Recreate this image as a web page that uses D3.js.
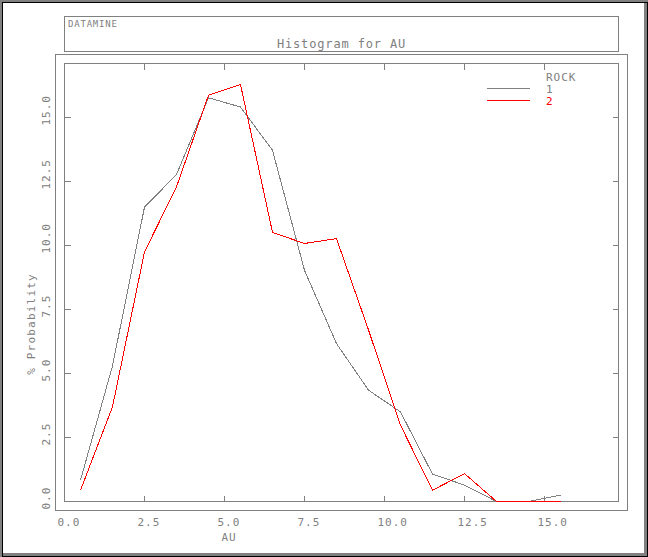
<!DOCTYPE html>
<html>
<head>
<meta charset="utf-8">
<script src="https://cdn.jsdelivr.net/npm/d3@7/dist/d3.min.js"></script>
<style>
  html, body { margin: 0; padding: 0; background: #fff; }
  svg { display: block; }
  text { font-family: "DejaVu Sans Mono", "Liberation Mono", monospace; fill: #808080; }
</style>
</head>
<body>
<svg id="chart" width="648" height="557"></svg>
<script>
// ---- data ----
const binCentres = [0.5, 1.5, 2.5, 3.5, 4.5, 5.5, 6.5, 7.5, 8.5, 9.5, 10.5, 11.5, 12.5, 13.5, 14.5, 15.5];
const rock1 = [0.83, 5.3, 11.5, 12.77, 15.77, 15.41, 13.72, 9.03, 6.17, 4.35, 3.5, 1.07, 0.64, 0, 0, 0.25];
const rock2 = [0.44, 3.7, 9.75, 12.29, 15.87, 16.29, 10.51, 10.08, 10.27, 6.7, 2.98, 0.44, 1.09, 0, 0, 0];
const seriesNames = ["1", "2"];
const xTicks = [0, 2.5, 5, 7.5, 10, 12.5, 15];
const yTicks = [0, 2.5, 5, 7.5, 10, 12.5, 15];
const xDomain = [0, 17.3125];
const yDomain = [0, 17.11];

const GRAY = "#808080", RED = "#ff0000";
const svg = d3.select("#chart");

// window bevel frame
svg.append("rect").attr("x",0).attr("y",0).attr("width",648).attr("height",557).attr("fill",GRAY);
svg.append("rect").attr("x",2).attr("y",2).attr("width",646).attr("height",555).attr("fill","#000");
svg.append("rect").attr("x",3).attr("y",3).attr("width",644).attr("height",553).attr("fill",GRAY);
svg.append("rect").attr("x",3).attr("y",3).attr("width",641).attr("height",550).attr("fill","#fff");

// title box
svg.append("rect").attr("x",64.5).attr("y",16.5).attr("width",554).attr("height",34.5)
  .attr("fill","none").attr("stroke",GRAY).attr("shape-rendering","crispEdges");
svg.append("text").attr("x",68).attr("y",27).attr("font-size",9).attr("letter-spacing",0.8).text("DATAMINE");
svg.append("text").attr("x",341.5).attr("y",47.5).attr("text-anchor","middle")
  .attr("font-size",12).attr("letter-spacing",0.85).text("Histogram for AU");

// outer plot box
svg.append("rect").attr("x",55.5).attr("y",54.5).attr("width",572).attr("height",456)
  .attr("fill","none").attr("stroke",GRAY).attr("shape-rendering","crispEdges");

// scales
const x = d3.scaleLinear().domain(xDomain).range([64.5, 618.5]);
const y = d3.scaleLinear().domain(yDomain).range([501.5, 63.5]);

// inner frame
svg.append("rect").attr("x",x(xDomain[0])).attr("y",y(yDomain[1]))
  .attr("width",x(xDomain[1])-x(xDomain[0])).attr("height",y(yDomain[0])-y(yDomain[1]))
  .attr("fill","none").attr("stroke",GRAY).attr("shape-rendering","crispEdges");

const fmt = d3.format(".1f");
function styleAxis(g) {
  g.select(".domain").remove();
  g.selectAll(".tick line").attr("stroke",GRAY).attr("shape-rendering","crispEdges");
  g.selectAll(".tick text").attr("fill",GRAY).attr("font-size",11).attr("letter-spacing",1.0)
    .attr("font-family",'"DejaVu Sans Mono", monospace');
}

// bottom axis
const gxb = svg.append("g").attr("transform",`translate(0,${y(0)})`)
  .call(d3.axisBottom(x).tickValues(xTicks).tickSize(-6).tickFormat(fmt).offset(0));
styleAxis(gxb);
gxb.selectAll(".tick text").attr("text-anchor","start").attr("x",-7).attr("y",24.5).attr("dy",0);

// top axis (mirror ticks)
const gxt = svg.append("g").attr("transform",`translate(0,${y(yDomain[1])})`)
  .call(d3.axisTop(x).tickValues(xTicks).tickSize(-6).tickFormat("").offset(0));
styleAxis(gxt);

// left axis
const gyl = svg.append("g").attr("transform",`translate(${x(0)},0)`)
  .call(d3.axisLeft(y).tickValues(yTicks).tickSize(-6).tickFormat(fmt).offset(0));
styleAxis(gyl);
gyl.selectAll(".tick text").attr("text-anchor","start").attr("x",0).attr("y",0).attr("dy",0)
  .attr("transform","translate(-14.5,8) rotate(-90)");

// right axis (mirror ticks)
const gyr = svg.append("g").attr("transform",`translate(${x(xDomain[1])},0)`)
  .call(d3.axisRight(y).tickValues(yTicks).tickSize(-6).tickFormat("").offset(0));
styleAxis(gyr);

// axis titles
svg.append("text").attr("transform","translate(35,324) rotate(-90)").attr("text-anchor","middle")
  .attr("font-size",11).attr("letter-spacing",1.2).text("% Probability");
svg.append("text").attr("x",229).attr("y",541).attr("text-anchor","middle")
  .attr("font-size",11).attr("letter-spacing",1.0).text("AU");

// data lines
const line = d3.line().x((d,i) => x(binCentres[i])).y(d => y(d));
const series = [{name: seriesNames[0], values: rock1, color: GRAY},
                {name: seriesNames[1], values: rock2, color: RED}];
svg.selectAll("path.series").data(series).join("path").attr("class","series")
  .attr("d", d => line(d.values)).attr("fill","none").attr("stroke", d => d.color)
  .attr("stroke-width",1).attr("shape-rendering","crispEdges");

// legend
svg.append("text").attr("x",546).attr("y",80.7).attr("font-size",11).attr("letter-spacing",1.0).text("ROCK");
series.forEach((s,i) => {
  const ly = 88.5 + i*12;
  svg.append("line").attr("x1",487).attr("x2",530).attr("y1",ly).attr("y2",ly)
    .attr("stroke",s.color).attr("shape-rendering","crispEdges");
  svg.append("text").attr("x",546).attr("y",92.7 + i*12.3).attr("font-size",11)
    .attr("letter-spacing",1.0).style("fill", s.color).text(s.name);
});
</script>
</body>
</html>
